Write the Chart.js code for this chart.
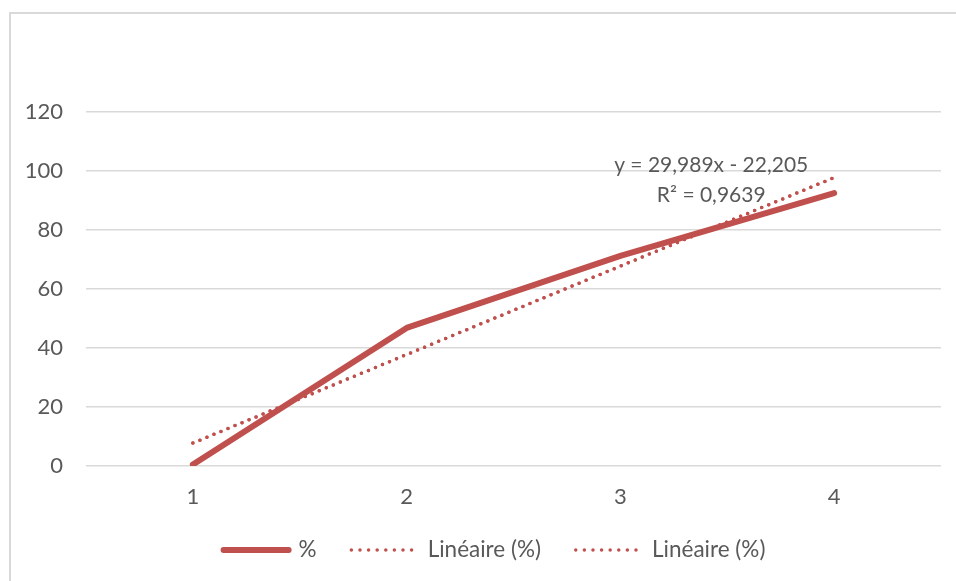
<!DOCTYPE html>
<html>
<head>
<meta charset="utf-8">
<script src="https://cdn.jsdelivr.net/npm/chart.js@4/dist/chart.umd.min.js"></script>
<style>
    html, body { margin: 0; padding: 0; background: #fff; }
    #wrap { width: 956px; height: 581px; }
</style>
</head>
<body>
<div id="wrap"><canvas id="chart" width="956" height="581"></canvas></div>
<script>
const categories = ['1', '2', '3', '4'];
const percentValues = [0.5, 46.8, 71.2, 92.5];
const trendValues = [7.784, 37.773, 67.762, 97.751];
const yTicks = [0, 20, 40, 60, 80, 100, 120];
const equationLines = ['y = 29,989x - 22,205', 'R² = 0,9639'];

const RED = '#C0504D';
const TEXT = '#595959';
const GRID = '#D9D9D9';
const FONT = 'Lato, Carlito, Calibri, sans-serif';

const frameBorder = {
    id: 'frameBorder',
    beforeDraw(chart) {
        const ctx = chart.ctx;
        ctx.save();
        ctx.fillStyle = '#fff';
        ctx.fillRect(0, 0, chart.width, chart.height);
        ctx.strokeStyle = GRID;
        ctx.lineWidth = 2;
        ctx.beginPath();
        ctx.moveTo(10, chart.height + 2);
        ctx.lineTo(10, 13);
        ctx.lineTo(chart.width + 2, 13);
        ctx.stroke();
        ctx.restore();
    },
};

const equationLabel = {
    id: 'equationLabel',
    afterDatasetsDraw(chart) {
        const ctx = chart.ctx;
        const x = chart.scales.x.getPixelForValue(2.425);
        const y = chart.scales.y.getPixelForValue(102);
        ctx.save();
        ctx.fillStyle = TEXT;
        ctx.font = '21px ' + FONT;
        ctx.textAlign = 'center';
        ctx.textBaseline = 'middle';
        equationLines.forEach((line, i) => ctx.fillText(line, x, y + i * 30));
        ctx.restore();
    },
};

// legend drawn by hand so the line samples and spacing match
const bottomLegend = {
    id: 'bottomLegend',
    afterDraw(chart) {
        const ctx = chart.ctx;
        const sample = 71, gap = 7, spacing = 33, y = 550;
        ctx.save();
        ctx.font = '22.5px ' + FONT;
        ctx.textBaseline = 'middle';
        const items = chart.data.datasets.map((ds) => ({ ds, w: sample + gap + ctx.measureText(ds.label).width }));
        const total = items.reduce((s, it) => s + it.w, 0) + spacing * (items.length - 1);
        let x = 493 - total / 2;
        items.forEach(({ ds, w }) => {
            ctx.strokeStyle = ds.borderColor;
            ctx.lineWidth = ds.borderWidth;
            ctx.lineCap = 'round';
            ctx.setLineDash(ds.borderDash ? [0, 8.6] : []);
            ctx.beginPath();
            ctx.moveTo(x + ds.borderWidth / 2, y);
            ctx.lineTo(x + sample - ds.borderWidth / 2, y);
            ctx.stroke();
            ctx.setLineDash([]);
            ctx.fillStyle = TEXT;
            ctx.fillText(ds.label, x + sample + gap, y);
            x += w + spacing;
        });
        ctx.restore();
    },
};

new Chart(document.getElementById('chart'), {
    type: 'line',
    data: {
        labels: categories,
        datasets: [
            {
                label: '%',
                data: percentValues,
                borderColor: RED,
                backgroundColor: RED,
                borderWidth: 6,
                borderCapStyle: 'round',
                borderJoinStyle: 'round',
                pointRadius: 0,
                tension: 0,
                order: 1,
            },
            {
                label: 'Linéaire (%)',
                data: trendValues,
                borderColor: RED,
                backgroundColor: RED,
                borderWidth: 3.5,
                borderDash: [0, 7.6],
                borderCapStyle: 'round',
                pointRadius: 0,
                order: 2,
            },
            {
                label: 'Linéaire (%)',
                data: trendValues,
                borderColor: RED,
                backgroundColor: RED,
                borderWidth: 3.5,
                borderDash: [0, 7.6],
                borderCapStyle: 'round',
                pointRadius: 0,
                order: 3,
            },
        ],
    },
    options: {
        responsive: false,
        animation: false,
        devicePixelRatio: 1,
        layout: {
            padding: { top: 112, right: 15, bottom: 50, left: 0 },
        },
        scales: {
            x: {
                offset: true,
                grid: { display: false, drawTicks: false },
                border: { display: false },
                ticks: {
                    color: TEXT,
                    font: { family: FONT, size: 22 },
                    padding: 18,
                },
                afterFit: (scale) => { scale.height = 65; },
            },
            y: {
                min: 0,
                max: 120,
                afterBuildTicks: (scale) => {
                    scale.ticks = yTicks.map((v) => ({ value: v }));
                },
                grid: { color: GRID, lineWidth: 1.5, drawTicks: false },
                border: { display: false },
                ticks: {
                    color: TEXT,
                    font: { family: FONT, size: 22 },
                    padding: 23,
                },
                afterFit: (scale) => { scale.width = 86; },
            },
        },
        plugins: {
            legend: { display: false },
            tooltip: { enabled: false },
        },
    },
    plugins: [frameBorder, equationLabel, bottomLegend],
});
</script>
</body>
</html>
